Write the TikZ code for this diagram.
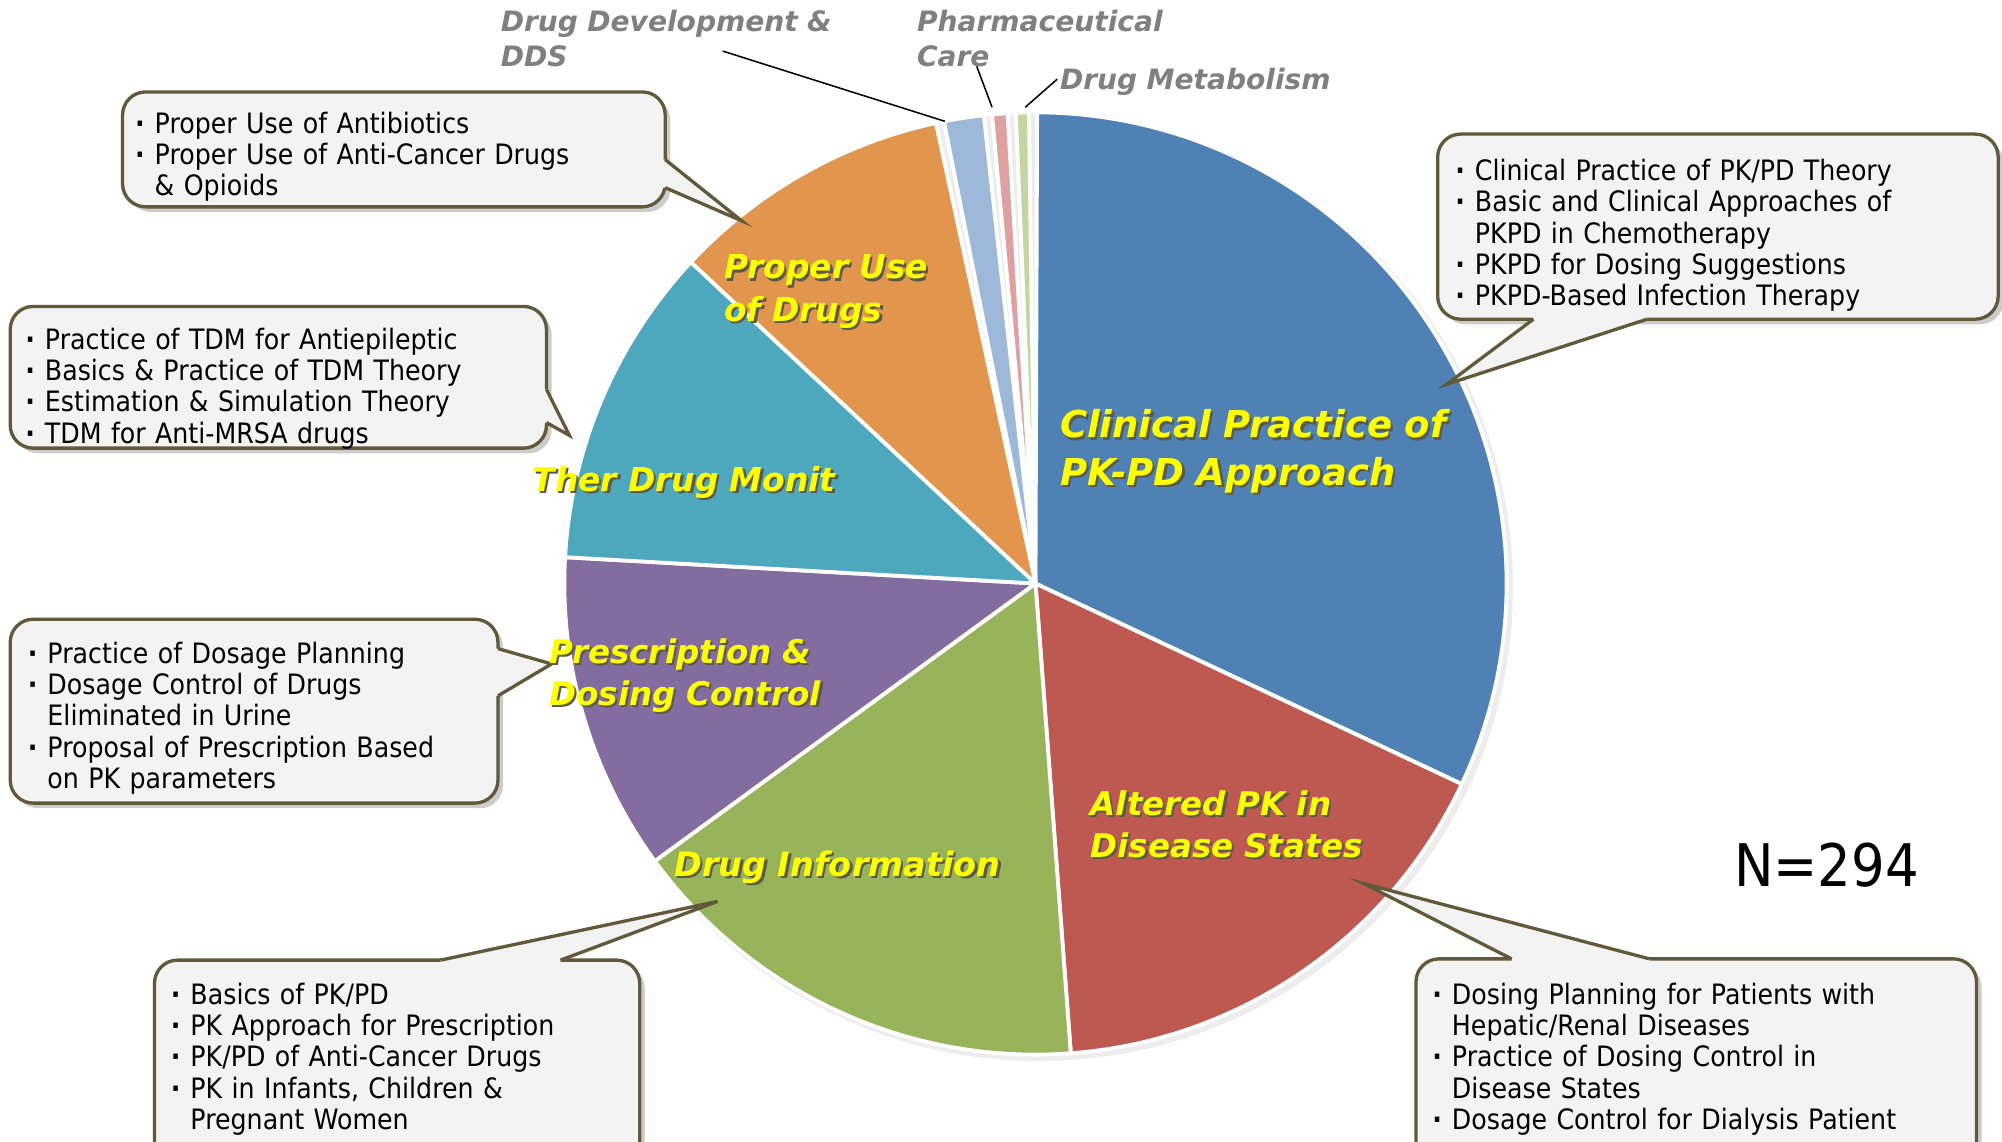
\documentclass[tikz,border=0pt]{standalone}
\usepackage{fontspec}
\setmainfont{DejaVu Sans}
\newfontfamily\boxfont[FakeStretch=0.9]{DejaVu Sans}
\newfontfamily\lblfont{DejaVu Sans}
\definecolor{cBlue}{RGB}{79,129,181}
\definecolor{cRed}{RGB}{189,89,80}
\definecolor{cGreen}{RGB}{152,180,91}
\definecolor{cPurple}{RGB}{131,108,160}
\definecolor{cTeal}{RGB}{77,168,190}
\definecolor{cOrange}{RGB}{226,149,76}
\definecolor{cLBlue}{RGB}{158,184,217}
\definecolor{cPink}{RGB}{222,160,160}
\definecolor{cLGreen}{RGB}{196,214,160}
\definecolor{boxline}{RGB}{96,89,58}
\definecolor{boxfill}{RGB}{243,243,243}
\definecolor{lblyellow}{RGB}{255,255,0}
\definecolor{lblshadow}{RGB}{90,90,70}
\definecolor{smallgray}{RGB}{128,128,128}
\newcommand\bul{\makebox[0.8em][l]{\hspace{0.1em}\textbf{·}}}
\newcommand\ind{\hspace*{0.8em}}
\newcommand\shd[1]{\leavevmode\rlap{\kern1.8pt\raisebox{-1.8pt}{\textcolor{lblshadow}{#1}}}#1}
\tikzset{
  slice/.style={draw=white, line width=3pt, line join=round},
  boxshape/.style={draw=boxline, fill=boxfill, line width=2.6pt, rounded corners=18pt},
  boxshadow/.style={fill=black, opacity=0.2, xshift=4pt, yshift=-4pt},
  ptrfill/.style={fill=boxfill},
  ptrline/.style={draw=boxline, line width=2.6pt, line join=miter},
  boxtext/.style={inner sep=0pt, anchor=base west, text width=440pt, align=left,
    font=\boxfont\fontsize{22pt}{24.5pt}\selectfont, text=black},
  lbl/.style={inner sep=0pt, anchor=base west, text width=420pt, align=left, text=lblyellow},
  smalllbl/.style={inner sep=0pt, anchor=base west, text width=300pt, align=left, text=smallgray,
    font=\lblfont\bfseries\itshape\fontsize{22pt}{27pt}\selectfont},
  leader/.style={draw=black, line width=1.2pt}
}
\begin{document}
\begin{tikzpicture}[x=1pt,y=-1pt]
\clip (0,0) rectangle (1568,894);
\fill[white] (0,0) rectangle (1568,894);
% ---------- pie ----------
\coordinate (c) at (811,457);
\def\R{369pt}
\fill[black, opacity=0.07] ([xshift=3pt,yshift=-3pt]c) circle (371pt);
\foreach \a/\b/\col in {89.8/-25.2/cBlue, -25.2/-85.7/cRed, -85.7/-143.9/cGreen,
  216.1/176.8/cPurple, 176.8/137/cTeal, 137/102.2/cOrange,
  101.2/96.3/cLBlue, 95.3/93.4/cPink, 92.4/90.8/cLGreen}
  \fill[\col, slice] (c) -- ++(\a:\R) arc[start angle=\a, end angle=\b, radius=\R] -- cycle;
% ---------- callout 1 : Proper Use ----------
\coordinate (p1a) at (521,125); \coordinate (p1t) at (581,173); \coordinate (p1b) at (521,147);
\fill[boxshadow, rounded corners=18pt] (96,72) rectangle (521,162);
\fill[boxshadow] (p1a) -- (p1t) -- (p1b) -- cycle;
\path[boxshape] (96,72) rectangle (521,162);
\fill[ptrfill] (p1a) -- (p1t) -- (p1b) -- ++(-7,0) -- ([xshift=-7pt]p1a) -- cycle;
\path[ptrline] (p1a) -- (p1t) -- (p1b);
\node[boxtext] (t1) at (103.4,104.5) {\bul Proper Use of Antibiotics\\
  \bul Proper Use of Anti-Cancer Drugs\\ \ind \& Opioids};
% ---------- callout 2 : TDM ----------
\coordinate (p2a) at (428,305); \coordinate (p2t) at (446,341); \coordinate (p2b) at (428,331);
\fill[boxshadow, rounded corners=18pt] (8,240) rectangle (428,351);
\fill[boxshadow] (p2a) -- (p2t) -- (p2b) -- cycle;
\path[boxshape] (8,240) rectangle (428,351);
\fill[ptrfill] (p2a) -- (p2t) -- (p2b) -- ++(-7,0) -- ([xshift=-7pt]p2a) -- cycle;
\path[ptrline] (p2a) -- (p2t) -- (p2b);
\node[boxtext] (t2) at (17.4,273.5) {\bul Practice of TDM for Antiepileptic\\
  \bul Basics \& Practice of TDM Theory\\ \bul Estimation \& Simulation Theory\\
  \bul TDM for Anti-MRSA drugs};
% ---------- callout 3 : Prescription ----------
\coordinate (p3a) at (390,508); \coordinate (p3t) at (432,520); \coordinate (p3b) at (390,545);
\fill[boxshadow, rounded corners=18pt] (8,485) rectangle (390,629);
\fill[boxshadow] (p3a) -- (p3t) -- (p3b) -- cycle;
\path[boxshape] (8,485) rectangle (390,629);
\fill[ptrfill] (p3a) -- (p3t) -- (p3b) -- ++(-7,0) -- ([xshift=-7pt]p3a) -- cycle;
\path[ptrline] (p3a) -- (p3t) -- (p3b);
\node[boxtext] (t3) at (19.4,519.5) {\bul Practice of Dosage Planning\\
  \bul Dosage Control of Drugs\\ \ind Eliminated in Urine\\
  \bul Proposal of Prescription Based\\ \ind on PK parameters};
% ---------- callout 4 : Drug Information ----------
\coordinate (p4a) at (345,752); \coordinate (p4t) at (562,706); \coordinate (p4b) at (439,752);
\fill[boxshadow, rounded corners=18pt] (121,752) rectangle (501,930);
\fill[boxshadow] (p4a) -- (p4t) -- (p4b) -- cycle;
\path[boxshape] (121,752) rectangle (501,930);
\fill[ptrfill] (p4a) -- (p4t) -- (p4b) -- ++(0,7) -- ([yshift=-7pt]p4a) -- cycle;
\path[ptrline] (p4a) -- (p4t) -- (p4b);
\node[boxtext] (t4) at (131.4,786.5) {\bul Basics of PK/PD\\
  \bul PK Approach for Prescription\\ \bul PK/PD of Anti-Cancer Drugs\\
  \bul PK in Infants, Children \&\\ \ind Pregnant Women};
% ---------- callout 5 : Altered PK ----------
\coordinate (p5a) at (1184,751); \coordinate (p5t) at (1068,692); \coordinate (p5b) at (1292,751);
\fill[boxshadow, rounded corners=18pt] (1109,751) rectangle (1548,930);
\fill[boxshadow] (p5a) -- (p5t) -- (p5b) -- cycle;
\path[boxshape] (1109,751) rectangle (1548,930);
\fill[ptrfill] (p5a) -- (p5t) -- (p5b) -- ++(0,7) -- ([yshift=-7pt]p5a) -- cycle;
\path[ptrline] (p5a) -- (p5t) -- (p5b);
\node[boxtext] (t5) at (1119.4,786.5) {\bul Dosing Planning for Patients with\\
  \ind Hepatic/Renal Diseases\\ \bul Practice of Dosing Control in\\
  \ind Disease States\\ \bul Dosage Control for Dialysis Patient};
% ---------- callout 6 : Clinical Practice ----------
\coordinate (p6a) at (1201,250); \coordinate (p6t) at (1133,301); \coordinate (p6b) at (1290,250);
\fill[boxshadow, rounded corners=18pt] (1126,105) rectangle (1565,250);
\fill[boxshadow] (p6a) -- (p6t) -- (p6b) -- cycle;
\path[boxshape] (1126,105) rectangle (1565,250);
\fill[ptrfill] (p6a) -- (p6t) -- (p6b) -- ++(0,-7) -- ([yshift=7pt]p6a) -- cycle;
\path[ptrline] (p6a) -- (p6t) -- (p6b);
\node[boxtext] (t6) at (1137.4,141.5) {\bul Clinical Practice of PK/PD Theory\\
  \bul Basic and Clinical Approaches of\\ \ind PKPD in Chemotherapy\\
  \bul PKPD for Dosing Suggestions\\ \bul PKPD-Based Infection Therapy};
% ---------- slice labels ----------
\node[lbl, font=\lblfont\bfseries\itshape\fontsize{29pt}{37pt}\selectfont] (lClin) at (830,343)
  {\shd{Clinical Practice of}\\\shd{PK-PD Approach}};
\node[lbl, font=\lblfont\bfseries\itshape\fontsize{25.8pt}{33pt}\selectfont] (lProp) at (567,218.5)
  {\shd{Proper Use}\\\shd{of Drugs}};
\node[lbl, font=\lblfont\bfseries\itshape\fontsize{25.8pt}{33pt}\selectfont] (lTher) at (417,385)
  {\shd{Ther Drug Monit}};
\node[lbl, font=\lblfont\bfseries\itshape\fontsize{25.5pt}{33pt}\selectfont] (lPres) at (430,519.5)
  {\shd{Prescription \&}\\\shd{Dosing Control}};
\node[lbl, font=\lblfont\bfseries\itshape\fontsize{26.3pt}{33pt}\selectfont] (lInfo) at (528,686.5)
  {\shd{Drug Information}};
\node[lbl, font=\lblfont\bfseries\itshape\fontsize{25.5pt}{33pt}\selectfont] (lAlt) at (854,638.5)
  {\shd{Altered PK in}\\\shd{Disease States}};
% ---------- small slice labels ----------
\node[smalllbl] (lDDS) at (392,25) {Drug Development \&\\DDS};
\node[smalllbl] (lCare) at (718,25) {Pharmaceutical\\Care};
\node[smalllbl] (lMet) at (830,70) {Drug Metabolism};
\coordinate (ddsS) at (566,40); \coordinate (ddsE) at (740,95);
\coordinate (careS) at (765,52); \coordinate (careE) at (777,84);
\coordinate (metS) at (828,62); \coordinate (metE) at (803,84);
\draw[leader] (ddsS) -- (ddsE);
\draw[leader] (careS) -- (careE);
\draw[leader] (metS) -- (metE);
% ---------- N ----------
\node[inner sep=0pt, anchor=base west, font=\boxfont\fontsize{46pt}{50pt}\selectfont] (nn) at (1358,694) {N=294};
\end{tikzpicture}
\end{document}
